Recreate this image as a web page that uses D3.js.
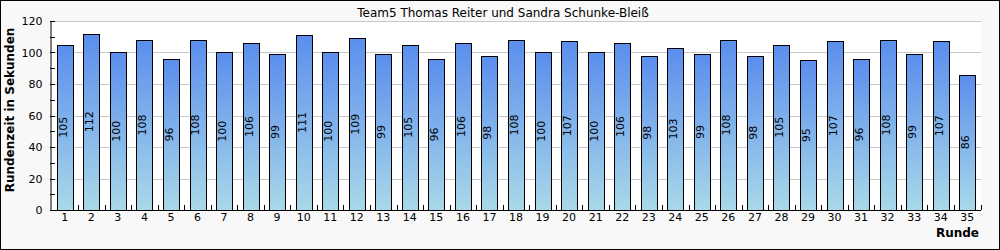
<!DOCTYPE html>
<html>
<head>
<style>
    body { margin: 0; background: #fff; }
    text { font-family: "DejaVu Sans", sans-serif; }
</style>
</head>
<body>
<script src="https://d3js.org/d3.v7.min.js"></script>
<script>
    const width = 1000;
    const height = 250;

    const title = "Team5 Thomas Reiter und Sandra Schunke-Bleiß";
    const runden = d3.range(1, 36);
    const zeiten = [105, 112, 100, 108, 96, 108, 100, 106, 99, 111, 100, 109, 99, 105, 96,
                    106, 98, 108, 100, 107, 100, 106, 98, 103, 99, 108, 98, 105, 95, 107,
                    96, 108, 99, 107, 86];
    const yTicks = [0, 20, 40, 60, 80, 100, 120];
    const yMinor = [10, 30, 50, 70, 90, 110];

    const svg = d3.select("body").append("svg")
        .attr("width", width).attr("height", height);

    // background + frame
    svg.append("rect")
        .attr("x", 0.5).attr("y", 0.5)
        .attr("width", width - 1).attr("height", height - 1)
        .attr("fill", "#f8f8f8").attr("stroke", "#000");

    const x = d3.scaleBand().domain(runden).range([51.5, 980.5]).padding(0);
    const y = d3.scaleLinear().domain([0, 120]).range([210, 21]);

    // plot area
    svg.append("rect")
        .attr("x", 50).attr("y", y(120))
        .attr("width", 981 - 50).attr("height", y(0) - y(120))
        .attr("fill", "#fff");

    // grid
    svg.append("g").selectAll("line").data(yTicks.slice(1)).join("line")
        .attr("x1", 50).attr("x2", 981)
        .attr("y1", d => Math.round(y(d)) + 0.5).attr("y2", d => Math.round(y(d)) + 0.5)
        .attr("stroke", "#c8c8c8");

    const defs = svg.append("defs");
    const grad = defs.append("linearGradient").attr("id", "barGrad")
        .attr("x1", 0).attr("y1", 0).attr("x2", 0).attr("y2", 1);
    grad.append("stop").attr("offset", "0%").attr("stop-color", "#5b8eed");
    grad.append("stop").attr("offset", "100%").attr("stop-color", "#a9d9e8");

    const bw = x.bandwidth() * 0.6;

    svg.append("g").selectAll("rect").data(zeiten).join("rect")
        .attr("x", (d, i) => Math.round(x(runden[i]) + (x.bandwidth() - bw) / 2) + 0.5)
        .attr("y", d => Math.round(y(d)) + 0.5)
        .attr("width", Math.round(bw))
        .attr("height", d => y(0) - Math.round(y(d)))
        .attr("fill", "url(#barGrad)")
        .attr("stroke", "#000").attr("stroke-width", 1);

    // value labels
    svg.append("g").selectAll("text").data(zeiten).join("text")
        .attr("transform", (d, i) => `translate(${x(runden[i]) + x.bandwidth() / 2 + 2},${(y(d) + y(0)) / 2}) rotate(-90)`)
        .attr("text-anchor", "middle")
        .attr("font-size", 11)
        .text(d => d);

    // axes
    const yAxis = d3.axisLeft(y).tickValues(yTicks).tickSize(0).tickPadding(8);
    const gy = svg.append("g").attr("transform", "translate(50.5,0)").call(yAxis);
    gy.select(".domain").attr("stroke", "#000");
    gy.selectAll("text").attr("font-size", 11).attr("font-family", "DejaVu Sans").attr("fill", "#000");
    svg.append("g").selectAll("line").data(yTicks.concat(yMinor)).join("line")
        .attr("x1", 50).attr("x2", 55)
        .attr("y1", d => Math.round(y(d)) + 0.5).attr("y2", d => Math.round(y(d)) + 0.5)
        .attr("stroke", "#000");

    const xAxis = d3.axisBottom(x).tickSize(0).tickPadding(3);
    const gx = svg.append("g").attr("transform", "translate(0,210.5)").call(xAxis);
    gx.select(".domain").remove();
    gx.selectAll("text").attr("font-size", 11).attr("font-family", "DejaVu Sans").attr("fill", "#000");
    svg.append("line").attr("x1", 50).attr("x2", 981)
        .attr("y1", 210.5).attr("y2", 210.5).attr("stroke", "#000");
    svg.append("g").selectAll("line").data(runden).join("line")
        .attr("x1", d => Math.round(x(d) + x.bandwidth()) + 0.5)
        .attr("x2", d => Math.round(x(d) + x.bandwidth()) + 0.5)
        .attr("y1", 210).attr("y2", 205)
        .attr("stroke", "#000");

    // titles
    svg.append("text").attr("x", 503).attr("y", 17)
        .attr("text-anchor", "middle").attr("font-size", 12)
        .text(title);

    svg.append("text")
        .attr("transform", "translate(14,110) rotate(-90)")
        .attr("text-anchor", "middle").attr("font-size", 12).attr("font-weight", "bold")
        .attr("font-family", "DejaVu Sans Mono")
        .text("Rundenzeit in Sekunden");

    svg.append("text").attr("x", 979).attr("y", 237)
        .attr("text-anchor", "end").attr("font-size", 12).attr("font-weight", "bold")
        .attr("font-family", "DejaVu Sans Mono")
        .text("Runde");
</script>
</body>
</html>
